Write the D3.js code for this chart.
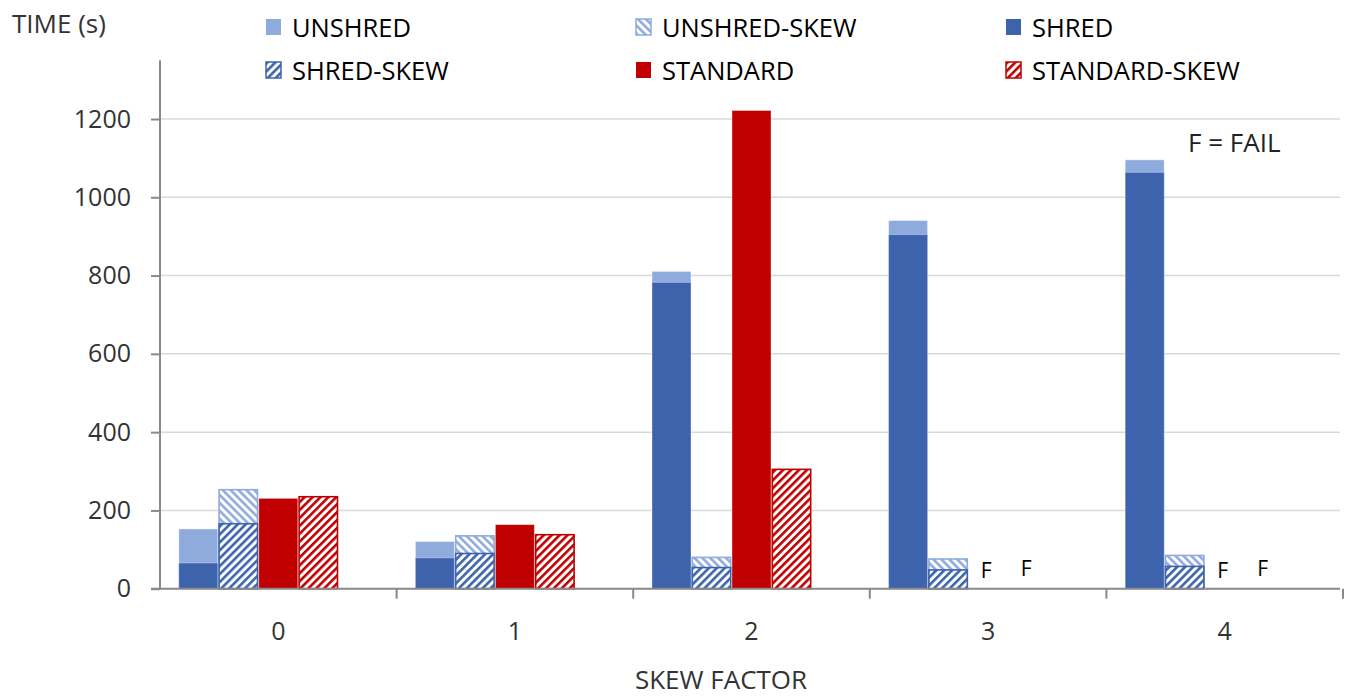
<!DOCTYPE html>
<html>
<head>
<meta charset="utf-8">
<script src="https://cdn.jsdelivr.net/npm/d3@7"></script>
<style>
  html, body { margin: 0; padding: 0; background: #fff; }
  svg { display: block; font-family: "Open Sans", "Noto Sans", sans-serif; }
</style>
</head>
<body>
<svg id="chart" width="1345" height="696"></svg>
<script>
// ---- data ----
const categories = ["0", "1", "2", "3", "4"];
const unshred      = [154, 122, 812, 942, 1097];
const shred        = [67, 80, 784, 906, 1065];
const unshredSkew  = [255, 137, 82, 78, 87];
const shredSkew    = [168, 92, 56, 50, 59];
const standard     = [232, 165, 1223, null, null];
const standardSkew = [237, 140, 307, null, null];
const yTicks = [0, 200, 400, 600, 800, 1000, 1200];
const legendNames = ["UNSHRED", "UNSHRED-SKEW", "SHRED", "SHRED-SKEW", "STANDARD", "STANDARD-SKEW"];
const failLabel = "F";

(function () {
// ---- styles ----
const C_LIGHT = "#8FAADC", C_DARK = "#3C63AC", C_RED = "#C00000";

const svg = d3.select("#chart");
const pLeft = 160, pRight = 1343, pBottom = 588.7, pTop = 60.3;

const x0 = d3.scaleBand().domain(categories).range([pLeft, pRight]).padding(0);
const slots = ["a", "b", "c", "d", "e"];
const x1 = d3.scaleBand().domain(slots).range([0, x0.bandwidth()]).paddingInner(0).paddingOuter(0.4575);
const y = d3.scaleLinear().domain([0, 1350]).range([pBottom, pTop]);

// patterns
const defs = svg.append("defs");
function hatch(id, color, angle) {
  const p = defs.append("pattern").attr("id", id)
    .attr("patternUnits", "userSpaceOnUse").attr("width", 5.6).attr("height", 5.6)
    .attr("patternTransform", `rotate(${angle})`);
  p.append("rect").attr("width", 5.6).attr("height", 5.6).attr("fill", "#fff");
  p.append("rect").attr("width", 2.6).attr("height", 5.6).attr("fill", color);
}
hatch("hLight", C_LIGHT, -45);
hatch("hDark", C_DARK, 45);
hatch("hRed", C_RED, 45);

// gridlines
svg.append("g").selectAll("line").data(yTicks.filter(d => d > 0)).join("line")
  .attr("x1", pLeft).attr("x2", pRight - 3)
  .attr("y1", d => y(d)).attr("y2", d => y(d))
  .attr("stroke", "#D9D9D9").attr("stroke-width", 1.5);

// bars
const rows = categories.map((c, i) => ({
  c, unshred: unshred[i], shred: shred[i], unshredSkew: unshredSkew[i],
  shredSkew: shredSkew[i], standard: standard[i], standardSkew: standardSkew[i]
}));
const bw = x1.bandwidth();
const g = svg.append("g");
function bars(key, slot, fill, stroke, sw) {
  g.append("g").selectAll("rect").data(rows.filter(r => r[key] != null)).join("rect")
    .attr("x", r => x0(r.c) + x1(slot) + sw / 2)
    .attr("width", bw - sw)
    .attr("y", r => y(r[key]) + sw / 2)
    .attr("height", r => pBottom - y(r[key]) - sw / 2)
    .attr("fill", fill)
    .attr("stroke", stroke).attr("stroke-width", sw);
}
bars("unshred", "a", C_LIGHT, "rgba(255,255,255,0.45)", 1);
bars("shred", "a", C_DARK, "rgba(255,255,255,0.35)", 1);
bars("unshredSkew", "b", "url(#hLight)", C_LIGHT, 1.6);
bars("shredSkew", "b", "url(#hDark)", C_DARK, 1.6);
bars("standard", "c", C_RED, "rgba(255,255,255,0.35)", 1);
bars("standardSkew", "d", "url(#hRed)", C_RED, 1.6);

// F labels
const fails = [];
rows.forEach(r => {
  if (r.standard == null) fails.push({ c: r.c, slot: "c", dy: 578 });
  if (r.standardSkew == null) fails.push({ c: r.c, slot: "d", dy: 575.5 });
});
svg.append("g").selectAll("text").data(fails).join("text")
  .attr("x", d => x0(d.c) + x1(d.slot) + bw / 2 - 2)
  .attr("y", d => d.dy)
  .attr("text-anchor", "middle")
  .attr("font-size", 21).attr("fill", "#000")
  .text(failLabel);

// y axis
const yAxis = d3.axisLeft(y).tickValues(yTicks).tickFormat(d3.format("d")).tickSize(9).tickPadding(20);
const ya = svg.append("g").attr("transform", `translate(${pLeft},0)`).call(yAxis);
ya.select(".domain").attr("stroke", "#898989").attr("stroke-width", 2).attr("d", `M0,${pBottom}V${pTop}`);
ya.selectAll(".tick line").attr("stroke", "#898989").attr("stroke-width", 2);
ya.selectAll(".tick text").attr("font-size", 25).attr("fill", "#333").attr("font-family", "Open Sans");

// x axis
const xa = svg.append("g").attr("transform", `translate(0,${pBottom})`)
  .call(d3.axisBottom(x0).tickSize(0).tickPadding(34));
xa.select(".domain").attr("stroke", "#898989").attr("stroke-width", 2).attr("d", `M${pLeft - 9},0H${pRight - 3}`);
xa.selectAll(".tick text").attr("font-size", 25).attr("fill", "#333").attr("font-family", "Open Sans");
xa.append("g").selectAll("line").data(categories).join("line")
  .attr("x1", d => x0(d) + x0.bandwidth()).attr("x2", d => x0(d) + x0.bandwidth())
  .attr("y1", 0).attr("y2", 10)
  .attr("stroke", "#898989").attr("stroke-width", 2);

// titles
svg.append("text").attr("x", 12).attr("y", 33).attr("font-size", 26).attr("fill", "#333").text("TIME (s)");
svg.append("text").attr("x", 721).attr("y", 689).attr("text-anchor", "middle")
  .attr("font-size", 26).attr("fill", "#333").text("SKEW FACTOR");
svg.append("text").attr("x", 1188).attr("y", 152).attr("font-size", 26).attr("fill", "#222").text("F = FAIL");

// legend
const legendFill = ["#8FAADC", "url(#hLight)", C_DARK, "url(#hDark)", C_RED, "url(#hRed)"];
const legendStroke = [null, C_LIGHT, null, C_DARK, null, C_RED];
const lg = svg.append("g").selectAll("g").data(legendNames).join("g")
  .attr("transform", (d, i) => `translate(${266 + (i % 3) * 370},${i < 3 ? 19 : 62})`);
lg.append("rect").attr("width", 15).attr("height", 16)
  .attr("fill", (d, i) => legendFill[i])
  .attr("stroke", (d, i) => legendStroke[i] || "none").attr("stroke-width", 1.5);
lg.append("text").attr("x", 26).attr("y", 17.5).attr("font-size", 25.5).attr("fill", "#000").text(d => d);
})();
</script>
</body>
</html>
